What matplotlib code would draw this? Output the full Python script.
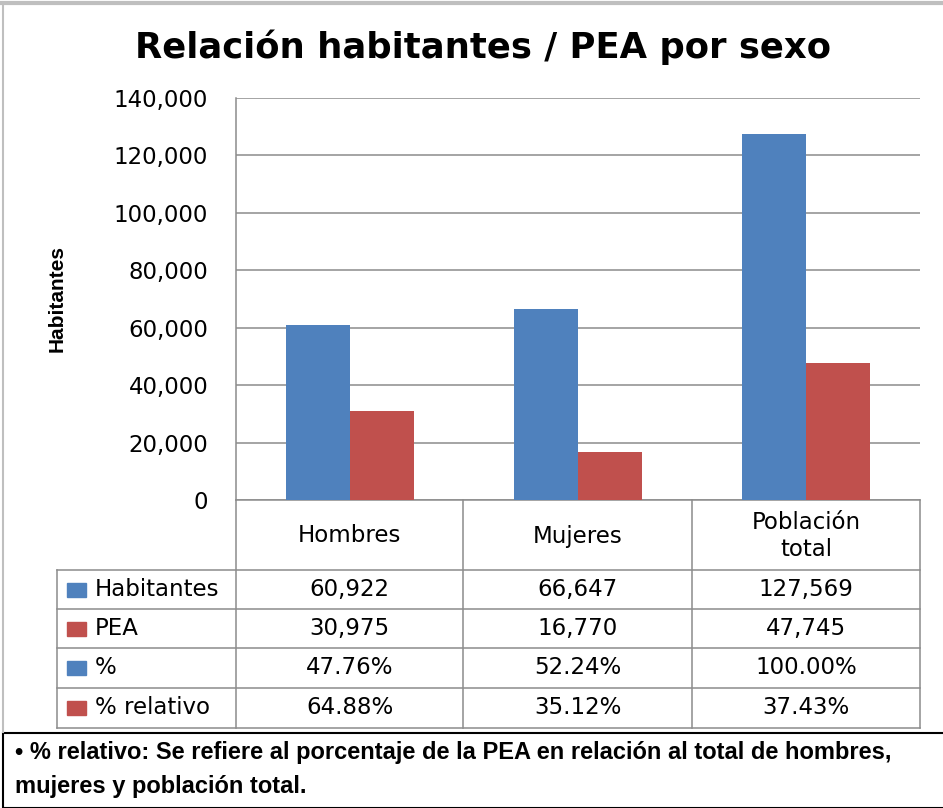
import numpy as np
import matplotlib
matplotlib.use("Agg")
import matplotlib.pyplot as plt
from matplotlib.lines import Line2D
from matplotlib.patches import Rectangle
from matplotlib.ticker import FuncFormatter

# chart data
categories = ["Hombres", "Mujeres", "Población\ntotal"]
habitantes = [60922, 66647, 127569]
pea = [30975, 16770, 47745]
pct = ["47.76%", "52.24%", "100.00%"]
pct_relativo = ["64.88%", "35.12%", "37.43%"]
row_labels = ["Habitantes", "PEA", "%", "% relativo"]

blue = "#4F81BD"
red = "#C0504D"
grid_col = "#8C8C8C"

W, H = 943, 808


def fx(x):
    return x / W


def fy(y):
    return 1 - y / H


fig = plt.figure(figsize=(W / 100, H / 100), dpi=100)
fig.patch.set_facecolor("white")

# axes: plot area in pixels x 236..920, y 98..500
ax = fig.add_axes([fx(236), fy(500), (920 - 236) / W, (500 - 98) / H])
x = np.arange(len(categories))
bw = 0.28
ax.bar(x - bw / 2, habitantes, bw, color=blue, zorder=3)
ax.bar(x + bw / 2, pea, bw, color=red, zorder=3)
ax.set_xlim(-0.5, 2.5)
ax.set_ylim(0, 140000)
ax.set_yticks(np.arange(0, 140001, 20000))
ax.yaxis.set_major_formatter(FuncFormatter(lambda v, p: f"{v:,.0f}"))
ax.set_xticks([])
ax.tick_params(axis="y", length=0, pad=20, labelsize=16.5)
ax.grid(axis="y", color=grid_col, linewidth=1.1, zorder=0)
for s in ["top", "right"]:
    ax.spines[s].set_visible(False)
ax.spines["left"].set_color(grid_col)
ax.spines["bottom"].set_color(grid_col)
ax.spines["left"].set_linewidth(1.1)
ax.spines["bottom"].set_linewidth(1.1)

narrow = ["Liberation Sans Narrow", "Liberation Sans", "DejaVu Sans"]
ax.set_ylabel("Habitantes", family=narrow, fontweight="bold", fontsize=15)
ax.yaxis.set_label_coords((67 - 236) / (920 - 236), 0.5)

fig.text(fx(483), fy(47), "Relación habitantes / PEA por sexo",
         ha="center", va="center", fontsize=25.5, fontweight="bold")

# data table below the axes
col_edges = [236, 463, 692, 920]
row_edges = [570, 609, 648, 688, 728]
lab_left = 57
tcol = "#8C8C8C"
tsize = 16.5


def hline(y, x0, x1):
    fig.add_artist(Line2D([fx(x0), fx(x1)], [fy(y), fy(y)], color=tcol, lw=1.1))


def vline(x_, y0, y1):
    fig.add_artist(Line2D([fx(x_), fx(x_)], [fy(y0), fy(y1)], color=tcol, lw=1.1))


for y in row_edges:
    hline(y, lab_left, 920)
vline(lab_left, 570, 728)
for xe in col_edges:
    vline(xe, 500, 728)

for i, c in enumerate(categories):
    cx = (col_edges[i] + col_edges[i + 1]) / 2
    fig.text(fx(cx), fy(536), c, ha="center", va="center", fontsize=tsize,
             linespacing=1.2)

table_rows = [
    [f"{v:,}" for v in habitantes],
    [f"{v:,}" for v in pea],
    pct,
    pct_relativo,
]
row_colors = [blue, red, blue, red]
for r, (lab, vals) in enumerate(zip(row_labels, table_rows)):
    cy = (row_edges[r] + row_edges[r + 1]) / 2
    fig.add_artist(Rectangle((fx(67), fy(cy + 7)), 19 / W, 14 / H,
                             transform=fig.transFigure, color=row_colors[r]))
    fig.text(fx(95), fy(cy), lab, ha="left", va="center", fontsize=tsize)
    for i, v in enumerate(vals):
        cx = (col_edges[i] + col_edges[i + 1]) / 2
        fig.text(fx(cx), fy(cy), v, ha="center", va="center", fontsize=tsize)

# chart outer border
fig.add_artist(Line2D([0, 1], [fy(3), fy(3)], color="#BFBFBF", lw=3))
fig.add_artist(Line2D([fx(3), fx(3)], [fy(3), fy(732)], color="#BFBFBF", lw=1.5))

# footnote box
fig.add_artist(Rectangle((fx(3), 0), 1, fy(733), transform=fig.transFigure,
                         facecolor="white", edgecolor="black", lw=1.5))
fig.text(fx(15), fy(752), "\u2022 % relativo: Se refiere al porcentaje de la PEA en relación al total de hombres,",
         ha="left", va="center", family=narrow, fontweight="bold", fontsize=17)
fig.text(fx(15), fy(786), "mujeres y población total.",
         ha="left", va="center", family=narrow, fontweight="bold", fontsize=17)

fig.savefig("out.png", dpi=100)
